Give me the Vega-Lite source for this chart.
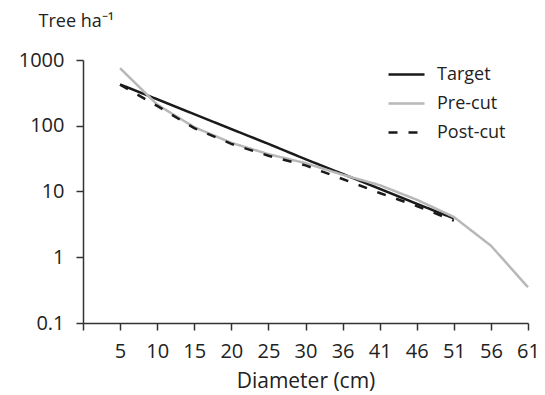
{
  "$schema": "https://vega.github.io/schema/vega-lite/v6.json",
  "width": 445,
  "height": 263,
  "autosize": {"type": "none"},
  "padding": {"left": 83, "top": 60, "right": 17, "bottom": 72},
  "background": "white",
  "config": {
    "view": {"stroke": null},
    "font": "Open Sans",
    "axis": {"labelFont": "Open Sans", "titleFont": "Open Sans", "labelColor": "#222", "titleColor": "#222", "domainColor": "#333", "tickColor": "#333", "domainWidth": 1.5, "tickWidth": 1.5, "grid": false}
  },
  "data": {
    "values": [
      {"Diameter": "5", "Series": "Target", "Trees": 425},
      {"Diameter": "10", "Series": "Target", "Trees": 253},
      {"Diameter": "15", "Series": "Target", "Trees": 150},
      {"Diameter": "20", "Series": "Target", "Trees": 89},
      {"Diameter": "25", "Series": "Target", "Trees": 53},
      {"Diameter": "30", "Series": "Target", "Trees": 31},
      {"Diameter": "36", "Series": "Target", "Trees": 18.5},
      {"Diameter": "41", "Series": "Target", "Trees": 11},
      {"Diameter": "46", "Series": "Target", "Trees": 6.5},
      {"Diameter": "51", "Series": "Target", "Trees": 3.9},
      {"Diameter": "5", "Series": "Pre-cut", "Trees": 750},
      {"Diameter": "10", "Series": "Pre-cut", "Trees": 210},
      {"Diameter": "15", "Series": "Pre-cut", "Trees": 95},
      {"Diameter": "20", "Series": "Pre-cut", "Trees": 55},
      {"Diameter": "25", "Series": "Pre-cut", "Trees": 37},
      {"Diameter": "30", "Series": "Pre-cut", "Trees": 27},
      {"Diameter": "36", "Series": "Pre-cut", "Trees": 18},
      {"Diameter": "41", "Series": "Pre-cut", "Trees": 12.5},
      {"Diameter": "46", "Series": "Pre-cut", "Trees": 7.5},
      {"Diameter": "51", "Series": "Pre-cut", "Trees": 4.1},
      {"Diameter": "56", "Series": "Pre-cut", "Trees": 1.5},
      {"Diameter": "61", "Series": "Pre-cut", "Trees": 0.35},
      {"Diameter": "5", "Series": "Post-cut", "Trees": 420},
      {"Diameter": "10", "Series": "Post-cut", "Trees": 200},
      {"Diameter": "15", "Series": "Post-cut", "Trees": 92},
      {"Diameter": "20", "Series": "Post-cut", "Trees": 53},
      {"Diameter": "25", "Series": "Post-cut", "Trees": 35},
      {"Diameter": "30", "Series": "Post-cut", "Trees": 25},
      {"Diameter": "36", "Series": "Post-cut", "Trees": 15.5},
      {"Diameter": "41", "Series": "Post-cut", "Trees": 9.5},
      {"Diameter": "46", "Series": "Post-cut", "Trees": 6},
      {"Diameter": "51", "Series": "Post-cut", "Trees": 3.6}
    ]
  },
  "mark": {"type": "line", "strokeWidth": 2.5},
  "encoding": {
    "x": {
      "field": "Diameter",
      "type": "ordinal",
      "scale": {"type": "point", "domain": ["", "5", "10", "15", "20", "25", "30", "36", "41", "46", "51", "56", "61"], "padding": 0},
      "axis": {"title": "Diameter (cm)", "labelAngle": 0, "labelFontSize": 20, "titleFontSize": 21, "titleFontWeight": "normal", "tickSize": 7, "labelPadding": 11, "titlePadding": 9}
    },
    "y": {
      "field": "Trees",
      "type": "quantitative",
      "scale": {"type": "log", "domain": [0.1, 1000], "nice": false},
      "axis": {"title": "Tree ha⁻¹", "values": [0.1, 1, 10, 100, 1000], "format": "~g", "labelFontSize": 20, "titleFontSize": 18, "titleFontWeight": "normal", "titleAngle": 0, "titleAlign": "left", "titleBaseline": "alphabetic", "titleX": -45, "titleY": -34, "tickSize": 7, "labelPadding": 12}
    },
    "color": {
      "field": "Series",
      "type": "nominal",
      "scale": {"domain": ["Target", "Pre-cut", "Post-cut"], "range": ["#1a1a1a", "#b8b8b8", "#1a1a1a"]},
      "legend": {"title": null, "orient": "none", "legendX": 304, "legendY": -5, "padding": 0, "symbolType": "stroke", "symbolSize": 1296, "symbolStrokeWidth": 2.5, "labelFontSize": 18, "labelFont": "Open Sans", "labelColor": "#222", "labelOffset": 11, "rowPadding": -11}
    },
    "strokeDash": {
      "field": "Series",
      "type": "nominal",
      "scale": {"domain": ["Target", "Pre-cut", "Post-cut"], "range": [[1, 0], [1, 0], [9, 11]]},
      "legend": null
    }
  }
}
